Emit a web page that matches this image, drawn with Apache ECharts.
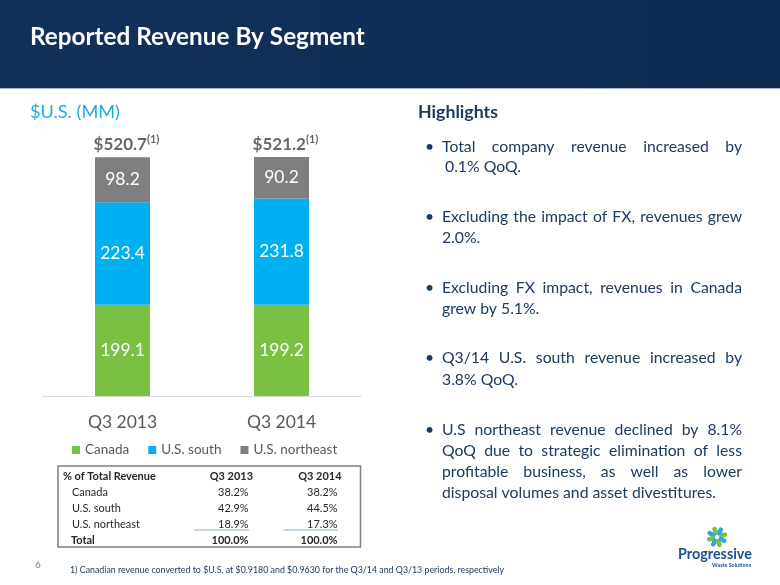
<!DOCTYPE html>
<html><head><meta charset="utf-8">
<script src="https://cdn.jsdelivr.net/npm/echarts@6/dist/echarts.min.js"></script>
<style>html,body{margin:0;padding:0;background:#fff}#c{width:780px;height:585px}</style>
</head><body><div id="c"></div>
<script>
// ---- data ----
const categories = ['Q3 2013', 'Q3 2014'];
const seriesNames = ['Canada', 'U.S. south', 'U.S. northeast'];
const canada = [199.1, 199.2];
const usSouth = [223.4, 231.8];
const usNortheast = [98.2, 90.2];
const totals = [520.7, 521.2];
const tableHeader = ['% of Total Revenue', 'Q3 2013', 'Q3 2014'];
const tableRowNames = ['Canada', 'U.S. south', 'U.S. northeast'];
const pctQ313 = ['38.2%', '42.9%', '18.9%'];
const pctQ314 = ['38.2%', '44.5%', '17.3%'];
const totalRow = ['Total', '100.0%', '100.0%'];
const highlightLines = [
  ['Total company revenue increased by', ' 0.1% QoQ.'],
  ['Excluding the impact of FX, revenues grew', '2.0%.'],
  ['Excluding FX impact, revenues in Canada', 'grew by 5.1%.'],
  ['Q3/14 U.S. south revenue increased by', '3.8% QoQ.'],
  ['U.S northeast revenue declined by 8.1%', 'QoQ due to strategic elimination of less', 'profitable business, as well as lower', 'disposal volumes and asset divestitures.']
];
const footnote = '1) Canadian revenue converted to $U.S. at $0.9180 and $0.9630 for the Q3/14 and Q3/13 periods, respectively';

// ---- helpers ----
const FONT = 'Lato';
const mctx = document.createElement('canvas').getContext('2d');
function tw(t, size, weight) { mctx.font = (weight || 'normal') + ' ' + size + 'px ' + FONT; return mctx.measureText(t).width; }
function fit(t, target, weight) { return 20 * target / tw(t, 20, weight); }
function txt(t, x, y, size, color, opt) {
  opt = opt || {};
  return { type: 'text', x: x, y: y, silent: true, z: 10,
    style: { text: t, fontSize: size, fontFamily: FONT, fontWeight: opt.weight || 'normal', fill: color,
      align: opt.align || 'left', verticalAlign: 'middle' } };
}

const g = [];
// header band
g.push({ type: 'rect', shape: { x: 0, y: 0, width: 780, height: 88 }, silent: true,
  style: { fill: new echarts.graphic.LinearGradient(0, 0, 1, 0, [{ offset: 0, color: '#12305a' }, { offset: 1, color: '#0f2b52' }]) } });
g.push({ type: 'line', shape: { x1: 0, y1: 88.5, x2: 780, y2: 88.5 }, silent: true, style: { stroke: '#a9b8c8', lineWidth: 1 } });
g.push(txt('Reported Revenue By Segment', 30, 37, fit('Reported Revenue By Segment', 335, 'bold'), '#ffffff', { weight: 'bold' }));
g.push(txt('$U.S. (MM)', 30, 112, fit('$U.S. (MM)', 90), '#1aafe6'));

// highlights
const NAVY = '#1d3a60';
g.push(txt('Highlights', 418, 112, fit('Highlights', 80, 'bold'), NAVY, { weight: 'bold' }));
const hs = fit('disposal volumes and asset divestitures.', 274);
const lineYs = [[146.7, 166.7], [216.7, 238.3], [288.3, 309.3], [358.3, 380], [430, 450.7, 471.7, 492.7]];
const L = 442, R = 742;
highlightLines.forEach((lines, bi) => {
  g.push(txt('•', 425, lineYs[bi][0], hs, NAVY));
  lines.forEach((ln, li) => {
    const y = lineYs[bi][li];
    const last = li === lines.length - 1;
    if (last) {
      const lead = ln.startsWith(' ') ? 3 : 0;
      g.push(txt(ln.trim(), L + lead, y, hs, NAVY));
    } else {
      const words = ln.split(' ');
      const ws = words.map(w => tw(w, hs));
      const sum = ws.reduce((a, b) => a + b, 0);
      const gap = (R - L - sum) / (words.length - 1);
      let x = L;
      words.forEach((w, i) => { g.push(txt(w, x, y, hs, NAVY)); x += ws[i] + gap; });
    }
  });
});

// table
g.push({ type: 'rect', shape: { x: 58, y: 466, width: 302.5, height: 81 }, silent: true, style: { fill: 'none', stroke: '#7f7f7f', lineWidth: 1.5 } });
const ts = fit('U.S. northeast', 68);
const TC = '#262626';
const rowYs = [492.3, 508.3, 524.3];
g.push(txt(tableHeader[0], 63, 476, ts, TC, { weight: 'bold' }));
g.push(txt(tableHeader[1], 253, 476, ts, TC, { weight: 'bold', align: 'right' }));
g.push(txt(tableHeader[2], 341.5, 476, ts, TC, { weight: 'bold', align: 'right' }));
tableRowNames.forEach((n, i) => {
  g.push(txt(n, 72, rowYs[i], ts, TC));
  g.push(txt(pctQ313[i], 248.5, rowYs[i], ts, TC, { align: 'right' }));
  g.push(txt(pctQ314[i], 337.5, rowYs[i], ts, TC, { align: 'right' }));
});
g.push({ type: 'line', shape: { x1: 194, y1: 530, x2: 249, y2: 530 }, silent: true, style: { stroke: '#8faadc', lineWidth: 1 } });
g.push({ type: 'line', shape: { x1: 283, y1: 530, x2: 338, y2: 530 }, silent: true, style: { stroke: '#8faadc', lineWidth: 1 } });
g.push(txt(totalRow[0], 71, 540.3, ts, TC, { weight: 'bold' }));
g.push(txt(totalRow[1], 248.5, 540.3, ts, TC, { weight: 'bold', align: 'right' }));
g.push(txt(totalRow[2], 337.5, 540.3, ts, TC, { weight: 'bold', align: 'right' }));

// footer
g.push(txt('6', 38, 565, 10, '#7f7f7f', { align: 'center' }));
g.push(txt(footnote, 70, 570.5, fit(footnote, 435), NAVY));

// logo
const petals = [];
for (let i = 0; i < 8; i++) {
  petals.push({ type: 'rect', rotation: i * Math.PI / 4 + 0.3, shape: { x: 2, y: -2.3, width: 8.5, height: 4.6, r: 2.3 },
    style: { fill: i % 2 === 0 ? '#7ac143' : '#29a9e1' } });
}
g.push({ type: 'group', x: 717, y: 537, silent: true, children: petals });
g.push(txt('Progressive', 678, 554, fit('Progressive', 74, 'bold'), '#1d4f91', { weight: 'bold' }));
g.push(txt('Waste Solutions', 751, 565, fit('Waste Solutions', 39, 'bold'), '#1d4f91', { weight: 'bold', align: 'right' }));

const COLORS = ['#7ac143', '#00b0f0', '#7f7f7f'];
const barLabel = { show: true, position: 'inside', color: '#ffffff', fontFamily: FONT, fontSize: 17.5, formatter: p => p.value.toFixed(1) };

const option = {
  animation: false,
  grid: { left: 43, right: 419, top: 121, bottom: 189 },
  xAxis: { type: 'category', data: categories,
    axisLine: { lineStyle: { color: '#d9d9d9', width: 1 } }, axisTick: { show: false },
    axisLabel: { color: '#595959', fontFamily: FONT, fontSize: 17.5, margin: 17 } },
  yAxis: { type: 'value', min: 0, max: 600, show: false, splitLine: { show: false } },
  legend: { data: seriesNames, left: 72, top: 443, padding: 0, itemWidth: 8, itemHeight: 8, itemGap: 19, icon: 'rect',
    textStyle: { color: '#595959', fontFamily: FONT, fontSize: 13.5 } },
  series: [
    { name: seriesNames[0], type: 'bar', stack: 'rev', data: canada, barWidth: 55, itemStyle: { color: COLORS[0] }, label: barLabel },
    { name: seriesNames[1], type: 'bar', stack: 'rev', data: usSouth, barWidth: 55, itemStyle: { color: COLORS[1] }, label: barLabel },
    { name: seriesNames[2], type: 'bar', stack: 'rev', data: usNortheast, barWidth: 55, itemStyle: { color: COLORS[2] }, label: barLabel },
    { name: 'Total', type: 'scatter', data: totals, symbolSize: 1, itemStyle: { color: 'rgba(0,0,0,0)' }, silent: true,
      label: { show: true, position: 'top', distance: 1, offset: [4, 0],
        formatter: p => '{a|$' + p.value.toFixed(1) + '}{s|(1)}',
        rich: { a: { fontFamily: FONT, fontSize: 17, fontWeight: 'bold', color: '#404040', lineHeight: 22 },
                s: { fontFamily: FONT, fontSize: 11, fontWeight: 'bold', color: '#404040', verticalAlign: 'top' } } } }
  ],
  graphic: g
};
const chart = echarts.init(document.getElementById('c'), null, { renderer: 'canvas' });
chart.setOption(option);
</script></body></html>
